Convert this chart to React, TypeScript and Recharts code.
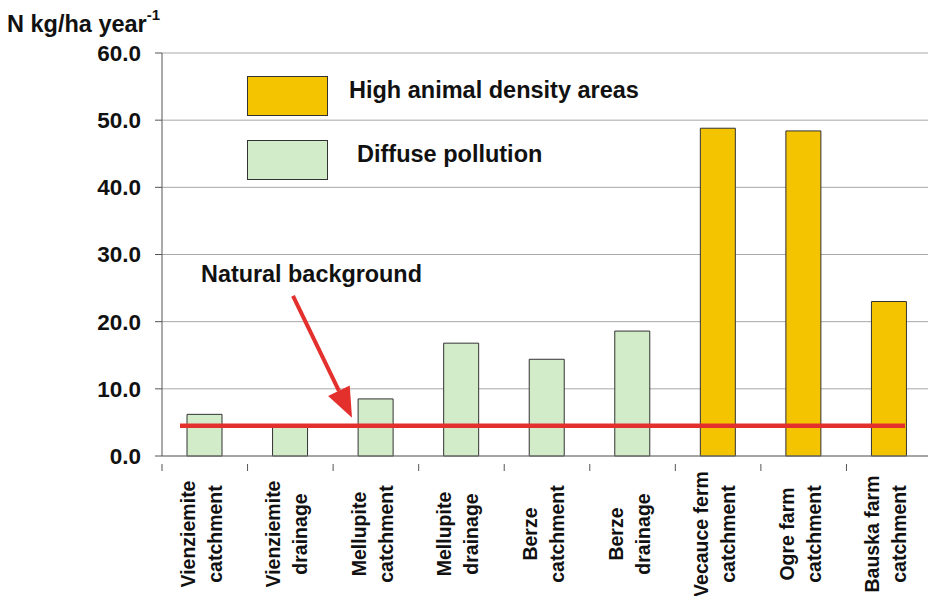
import { BarChart, Bar, Cell, XAxis, YAxis, CartesianGrid, ReferenceLine } from 'recharts'

const categories = [
  'Vienziemite catchment',
  'Vienziemite drainage',
  'Mellupite catchment',
  'Mellupite drainage',
  'Berze catchment',
  'Berze drainage',
  'Vecauce ferm catchment',
  'Ogre farm catchment',
  'Bauska farm catchment',
]
const labelLines = [
  ['Vienziemite', 'catchment'],
  ['Vienziemite', 'drainage'],
  ['Mellupite', 'catchment'],
  ['Mellupite', 'drainage'],
  ['Berze', 'catchment'],
  ['Berze', 'drainage'],
  ['Vecauce ferm', 'catchment'],
  ['Ogre farm', 'catchment'],
  ['Bauska farm', 'catchment'],
]
const nitrogen = [6.2, 4.3, 8.5, 16.8, 14.4, 18.6, 48.8, 48.4, 23.0]
const groups = ['diffuse', 'diffuse', 'diffuse', 'diffuse', 'diffuse', 'diffuse', 'high', 'high', 'high']
const naturalBackground = 4.5
const yTicks = [0, 10, 20, 30, 40, 50, 60]

const legendItems = [
  { key: 'high', label: 'High animal density areas' },
  { key: 'diffuse', label: 'Diffuse pollution' },
]

const FONT = '"Liberation Sans", Arial, sans-serif'
const COLORS: Record<string, string> = { high: '#F5C400', diffuse: '#D2EBC8' }
const RED = '#E3302C'

const WIDTH = 936
const HEIGHT = 596
const PLOT_LEFT = 162
const PLOT_RIGHT = 4
const BAND = (WIDTH - PLOT_LEFT - PLOT_RIGHT) / categories.length

const data = categories.map((name, i) => ({ name, value: nitrogen[i], group: groups[i] }))

function CategoryTick(props: any) {
  const { x, y, payload, index } = props
  const lines = labelLines[index] ?? [payload.value]
  const left = x - BAND / 2
  return (
    <g>
      <line x1={left} x2={left} y1={y} y2={y + 7} stroke="#555" />
      <g transform={`translate(${x},${y})`}>
        <text
          transform="rotate(-90)"
          textAnchor="middle"
          fontFamily={FONT}
          fontWeight="bold"
          fontSize={19.5}
          fill="#111"
        >
          <tspan x={-70} y={-10}>{lines[0]}</tspan>
          <tspan x={-70} y={17}>{lines[1]}</tspan>
        </text>
      </g>
    </g>
  )
}

function LegendBoxes() {
  return (
    <svg
      width={440}
      height={110}
      style={{ position: 'absolute', left: 247, top: 76, overflow: 'visible' }}
    >
      {legendItems.map((item, i) => (
        <g key={item.key} transform={`translate(0, ${i * 64})`}>
          <rect x={0.5} y={0.5} width={80} height={39} fill={COLORS[item.key]} stroke="#333" />
          <text
            x={item.key === 'diffuse' ? 110 : 102}
            y={14}
            dominantBaseline="central"
            fontFamily={FONT}
            fontWeight="bold"
            fontSize={23.5}
            fill="#111"
          >
            {item.label}
          </text>
        </g>
      ))}
    </svg>
  )
}

// horizontal background level plus the labelled arrow pointing at it
function BackgroundLine(props: any) {
  const { x1, x2, y1 } = props
  const y = y1
  const sx = x1 + 131
  const sy = y - 130
  const tx = x1 + 190
  const ty = y - 8
  const len = Math.hypot(tx - sx, ty - sy)
  const ux = (tx - sx) / len
  const uy = (ty - sy) / len
  const bx = tx - ux * 30
  const by = ty - uy * 30
  const px = -uy * 12
  const py = ux * 12
  return (
    <g>
      <line x1={x1 + 18} x2={x2 - 27} y1={y} y2={y} stroke={RED} strokeWidth={4.5} />
      <line x1={sx} y1={sy} x2={bx} y2={by} stroke={RED} strokeWidth={4} />
      <polygon points={`${tx},${ty} ${bx + px},${by + py} ${bx - px},${by - py}`} fill={RED} />
      <text x={x1 + 39} y={y - 144} fontFamily={FONT} fontWeight="bold" fontSize={23.4} fill="#111">
        Natural background
      </text>
    </g>
  )
}

export default function App() {
  return (
    <div style={{ position: 'absolute', left: 0, top: 0, width: WIDTH, height: HEIGHT, background: '#fff' }}>
      <BarChart
        width={WIDTH}
        height={HEIGHT}
        data={data}
        margin={{ top: 53, right: PLOT_RIGHT, left: PLOT_LEFT - 80, bottom: 0 }}
      >
        <CartesianGrid vertical={false} stroke="#a8a8a8" />
        <XAxis
          dataKey="name"
          interval={0}
          height={140}
          axisLine={{ stroke: '#777' }}
          tickLine={false}
          tick={<CategoryTick />}
        />
        <YAxis
          width={80}
          domain={[0, 60]}
          ticks={yTicks}
          tickFormatter={(v: number) => v.toFixed(1)}
          axisLine={{ stroke: '#555' }}
          tickLine={{ stroke: '#555' }}
          tickSize={7}
          tickMargin={14}
          tick={{ fontFamily: FONT, fontWeight: 'bold', fontSize: 22.5, fill: '#111' }}
          label={{
            content: () => (
              <text x={7} y={32} fontFamily={FONT} fontWeight="bold" fontSize={23.5} fill="#111">
                N kg/ha year
                <tspan dy={-12} fontSize={15}>-1</tspan>
              </text>
            ),
          }}
        />
        <Bar dataKey="value" barSize={35} stroke="#333" strokeWidth={1} isAnimationActive={false}>
          {data.map((d) => (
            <Cell key={d.name} fill={COLORS[d.group]} />
          ))}
        </Bar>
        <ReferenceLine y={naturalBackground} shape={<BackgroundLine />} />
      </BarChart>
      <LegendBoxes />
    </div>
  )
}
